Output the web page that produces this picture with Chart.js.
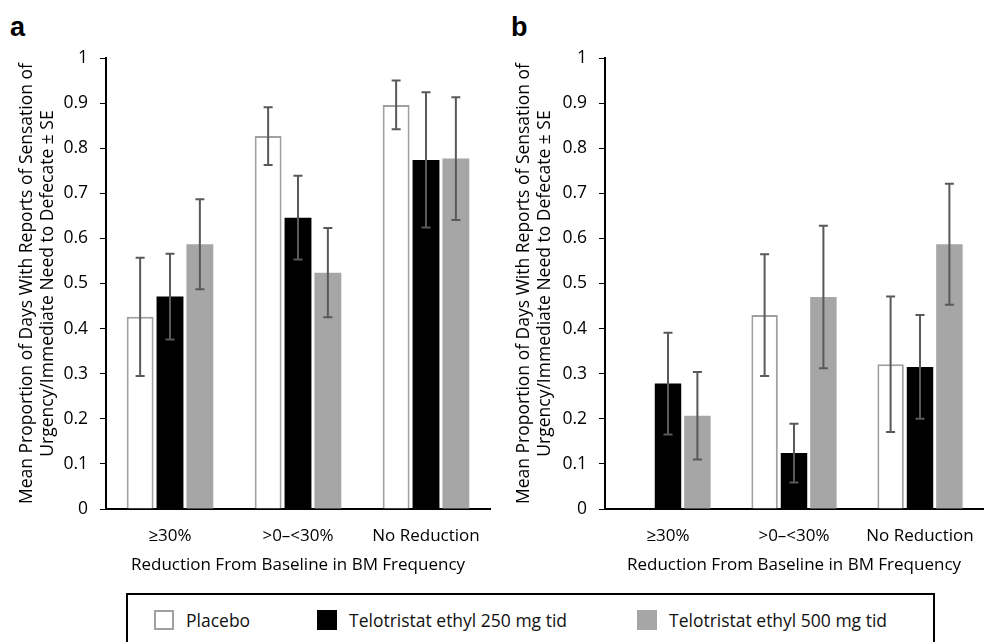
<!DOCTYPE html>
<html>
<head>
<script src="https://cdn.jsdelivr.net/npm/chart.js@4.4.0/dist/chart.umd.min.js"></script>
<style>
  body { margin: 0; background: #fff; width: 993px; height: 642px; overflow: hidden; position: relative; font-family: "Open Sans", sans-serif; }
  .panel { position: absolute; top: 0; height: 585px; }
  .tag { position: absolute; top: 12px; font: bold 27px "Liberation Sans", Arial, sans-serif; color: #000; }
  .legend { position: absolute; left: 126px; top: 593px; width: 809px; height: 60px; border: 2px solid #000; box-sizing: border-box; }
  .item { position: absolute; top: 15px; font-size: 17.5px; color: #111; line-height: 20px; white-space: nowrap; }
  .sw { position: absolute; left: -32px; top: 0; width: 20px; height: 20px; box-sizing: border-box; }
</style>
</head>
<body>
  <div class="tag" style="left:10px">a</div>
  <div class="tag" style="left:511px">b</div>
  <div class="panel" style="left:0; width:497px"><canvas id="chartA"></canvas></div>
  <div class="panel" style="left:497px; width:496px"><canvas id="chartB"></canvas></div>
  <div class="legend">
    <div class="item" style="left:58px"><span class="sw" style="border:2px solid #a0a0a0;background:#fff"></span>Placebo</div>
    <div class="item" style="left:221px"><span class="sw" style="background:#000"></span>Telotristat ethyl 250 mg tid</div>
    <div class="item" style="left:541px"><span class="sw" style="background:#a6a6a6"></span>Telotristat ethyl 500 mg tid</div>
  </div>

<script>
  const categories = ["\u226530%", ">0\u2013<30%", "No Reduction"];
  const seriesNames = ["Placebo", "Telotristat ethyl 250 mg tid", "Telotristat ethyl 500 mg tid"];

  // panel a
  const aPlacebo = [0.426, 0.827, 0.896];
  const aPlaceboSE = [0.131, 0.064, 0.054];
  const a250 = [0.471, 0.646, 0.774];
  const a250SE = [0.095, 0.093, 0.150];
  const a500 = [0.587, 0.524, 0.777];
  const a500SE = [0.100, 0.099, 0.136];

  // panel b (no placebo bar in first group)
  const bPlacebo = [null, 0.430, 0.321];
  const bPlaceboSE = [null, 0.135, 0.150];
  const b250 = [0.278, 0.124, 0.315];
  const b250SE = [0.113, 0.065, 0.115];
  const b500 = [0.207, 0.470, 0.587];
  const b500SE = [0.097, 0.158, 0.134];

  const yTicks = [0, 0.1, 0.2, 0.3, 0.4, 0.5, 0.6, 0.7, 0.8, 0.9, 1];
  const yTitle = ["Mean Proportion of Days With Reports of Sensation of", "Urgency/Immediate Need to Defecate \u00b1 SE"];
  const xTitle = "Reduction From Baseline in BM Frequency";

  const FONT = "'Open Sans', sans-serif";
  Chart.defaults.font.family = FONT;
  Chart.defaults.color = "#000";

  const errorBars = {
    id: "errorBars",
    afterDatasetsDraw(chart) {
      const ctx = chart.ctx;
      const y = chart.scales.y;
      ctx.save();
      ctx.strokeStyle = "#595959";
      ctx.lineWidth = 2;
      chart.data.datasets.forEach((ds, di) => {
        const meta = chart.getDatasetMeta(di);
        ds.data.forEach((v, i) => {
          const se = ds.se[i];
          if (v == null || se == null) return;
          const x = meta.data[i].x;
          const hi = y.getPixelForValue(v + se);
          const lo = y.getPixelForValue(v - se);
          ctx.beginPath();
          ctx.moveTo(x, hi); ctx.lineTo(x, lo);
          ctx.moveTo(x - 4.5, hi); ctx.lineTo(x + 4.5, hi);
          ctx.moveTo(x - 4.5, lo); ctx.lineTo(x + 4.5, lo);
          ctx.stroke();
        });
      });
      ctx.restore();
    }
  };

  function makeChart(id, p, pSE, m, mSE, h, hSE, yWidth, padRight) {
    return new Chart(document.getElementById(id), {
      type: "bar",
      data: {
        labels: categories,
        datasets: [
          { label: seriesNames[0], data: p, se: pSE, backgroundColor: "#fff", borderColor: "#a0a0a0", borderWidth: 2 },
          { label: seriesNames[1], data: m, se: mSE, backgroundColor: "#000", borderWidth: 0 },
          { label: seriesNames[2], data: h, se: hSE, backgroundColor: "#a6a6a6", borderWidth: 0 }
        ]
      },
      options: {
        responsive: true,
        maintainAspectRatio: false,
        animation: false,
        events: [],
        categoryPercentage: 0.7,
        barPercentage: 0.9,
        layout: { padding: { top: 58, right: padRight, left: 0, bottom: 0 } },
        plugins: { legend: { display: false }, tooltip: { enabled: false } },
        scales: {
          x: {
            grid: { display: false },
            border: { display: true, color: "#000", width: 2 },
            ticks: { font: { size: 17 }, padding: 9, maxRotation: 0 },
            title: { display: true, text: xTitle, font: { size: 17 }, padding: { top: 0, bottom: 10 } },
            afterFit(s) { s.height = 76; }
          },
          y: {
            min: 0, max: 1,
            afterBuildTicks(s) { s.ticks = yTicks.map(v => ({ value: v })); },
            grid: { drawOnChartArea: false, drawTicks: true, tickLength: 6, color: "#000", lineWidth: 1 },
            border: { display: true, color: "#000", width: 2 },
            ticks: { font: { size: 17.5 }, padding: 12, callback: v => String(v) },
            title: { display: true, text: yTitle, font: { size: 17.5 }, padding: { top: 17, bottom: 0 } },
            afterFit(s) { s.width = yWidth; }
          }
        }
      },
      plugins: [errorBars]
    });
  }

  makeChart("chartA", aPlacebo, aPlaceboSE, a250, a250SE, a500, a500SE, 106, 7);
  makeChart("chartB", bPlacebo, bPlaceboSE, b250, b250SE, b500, b500SE, 108, 10);
</script>
</body>
</html>
